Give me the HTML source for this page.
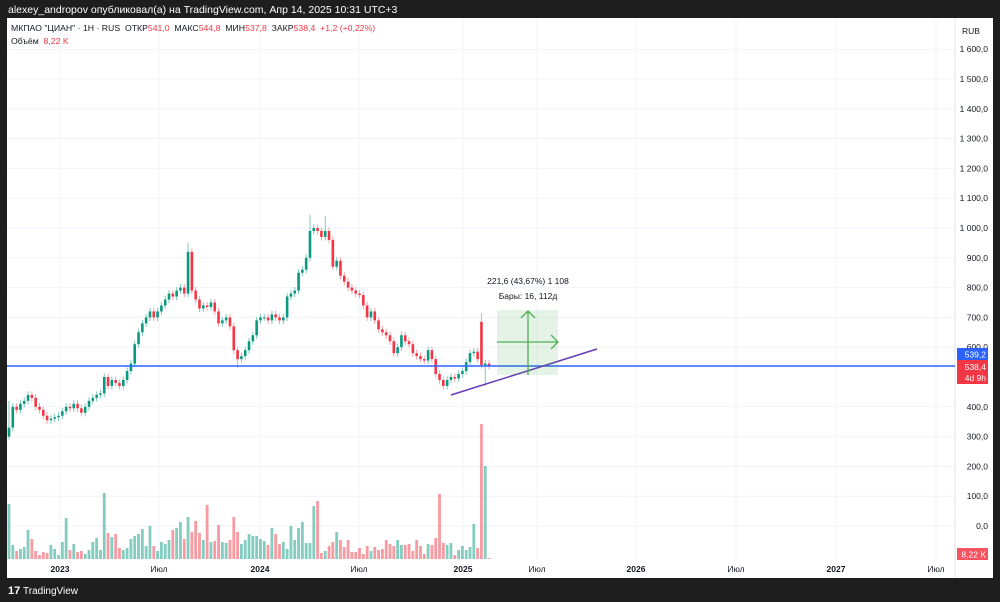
<!DOCTYPE html>
<html><head><meta charset="utf-8"><style>
body{margin:0;background:#1e1e1e;width:1000px;height:602px;overflow:hidden;font-family:"Liberation Sans","Noto Sans CJK SC",sans-serif}
svg{display:block}
text{white-space:pre}
</style></head><body>
<svg id="c" width="1000" height="602" xmlns="http://www.w3.org/2000/svg">
<rect x="0" y="0" width="1000" height="602" fill="#1e1e1e"/>
<text x="8" y="13" fill="#fff" font-size="10.5">alexey_andropov опубликовал(а) на TradingView.com, Апр 14, 2025 10:31 UTC+3</text>
<rect x="7" y="18" width="986" height="560" fill="#fff"/>
<line x1="955" y1="18" x2="955" y2="578" stroke="#e0e3eb"/>
<g id="grid"></g>
<g id="vols"></g>
<g id="candles"></g>
<line x1="7" y1="366" x2="955" y2="366" stroke="#2962ff" stroke-width="1.5"/>
<line x1="451" y1="395" x2="597" y2="349" stroke="#673ab7" stroke-width="1.5"/>
<g>
<rect x="497" y="310" width="61" height="65" fill="rgba(76,175,80,0.15)"/>
<line x1="528" y1="375" x2="528" y2="311" stroke="#4caf50" stroke-width="1.3"/>
<polyline points="521,318 528,311 535,318" fill="none" stroke="#4caf50" stroke-width="1.3"/>
<line x1="497" y1="342" x2="557" y2="342" stroke="#4caf50" stroke-width="1.3"/>
<polyline points="551,335 558,342 551,349" fill="none" stroke="#4caf50" stroke-width="1.3"/>
<text x="528" y="284" text-anchor="middle" font-size="8.5" fill="#131722">221,6 (43,67%) 1 108</text>
<text x="528" y="299" text-anchor="middle" font-size="8.5" fill="#131722">Бары: 16, 112д</text>
</g>
<g id="yaxis" font-size="8.5" fill="#131722"></g>
<g id="xaxis" font-size="8.5" fill="#131722"></g>
<text x="962" y="34" font-size="8.5" fill="#131722">RUB</text>
<text x="11" y="31" font-size="8.7" fill="#131722" xml:space="preserve">МКПАО "ЦИАН" · 1Н · RUS  ОТКР<tspan fill="#f23645">541,0</tspan>  МАКС<tspan fill="#f23645">544,8</tspan>  МИН<tspan fill="#f23645">537,8</tspan>  ЗАКР<tspan fill="#f23645">538,4</tspan>  <tspan fill="#f23645">+1,2 (+0,22%)</tspan></text>
<text x="11" y="44" font-size="8.7" fill="#131722" xml:space="preserve">Объём  <tspan fill="#f23645">8,22 K</tspan></text>
<rect x="957" y="348" width="31" height="12" fill="#2962ff"/>
<text x="986" y="357.5" text-anchor="end" font-size="8.5" fill="#fff">539,2</text>
<rect x="957" y="360" width="31" height="24" fill="#f23645"/>
<text x="986" y="370" text-anchor="end" font-size="8.5" fill="#fff">538,4</text>
<text x="986" y="381" text-anchor="end" font-size="8.5" fill="#fff">4d 9h</text>
<rect x="957" y="548" width="31" height="12" fill="#f7525f"/>
<text x="986" y="557.5" text-anchor="end" font-size="8.5" fill="#fff">8,22 K</text>
<text x="8" y="594" font-size="11" font-weight="bold" fill="#fff">17</text>
<text x="23" y="594" font-size="10" fill="#fff">TradingView</text>
</svg>
<script>
const closes=[330,400,390,410,420,440,430,400,390,370,355,360,365,370,385,400,395,410,395,380,400,420,430,440,445,500,470,490,480,470,490,520,545,610,650,680,700,720,700,720,740,760,780,770,790,800,780,920,790,760,730,740,735,750,720,680,690,700,670,590,560,570,590,620,640,690,700,700,690,710,700,690,700,770,780,790,850,860,900,990,1000,990,970,990,960,870,890,840,820,800,790,780,775,740,700,720,690,660,650,640,620,580,600,640,620,610,580,570,560,555,590,560,510,490,470,490,500,495,510,520,550,580,585,560,540,545,538];
const opens_override={124:685};
const highOverrides={0:420,47:950,79:1045,83:1040,124:714};
const lowOverrides={0:290,60:530,125:470};
const volumes=[55,14,8,10,12,29,20,8,4,7,6,14,10,4,17,41,9,15,7,8,5,9,17,21,9,66,26,22,25,11,9,11,20,23,25,30,13,33,13,8,17,15,19,29,31,37,20,42,27,38,26,19,54,17,18,34,17,16,19,42,27,15,19,25,23,23,20,18,14,31,25,15,17,10,33,19,31,37,16,16,53,58,6,8,13,17,27,19,12,19,7,7,11,5,13,8,12,9,10,19,15,13,19,14,14,15,8,19,13,5,15,14,21,65,16,14,16,4,9,13,9,12,35,11,135,93,1];
const yTicks=[1600,1500,1400,1300,1200,1100,1000,900,800,700,600,400,300,200,100,0];
const xLabels=["2023","Июл","2024","Июл","2025","Июл","2026","Июл","2027","Июл"];
const xLabelPos=[60,159,260,359,463,537,636,736,836,936];
const NS="http://www.w3.org/2000/svg";
const yP=p=>526-p*0.298;
const xI=i=>9+i*3.81;
const yV=v=>559-v;
function mk(t,a,parent){const e=document.createElementNS(NS,t);for(const k in a)e.setAttribute(k,a[k]);parent.appendChild(e);return e;}
const grid=document.getElementById('grid'),ya=document.getElementById('yaxis'),xa=document.getElementById('xaxis');
yTicks.forEach(t=>{
  const l=mk('line',{x1:7,x2:955,y1:yP(t),y2:yP(t),stroke:'#f0f3fa'},grid);
  
  
  const tx=mk('text',{x:988,y:yP(t)+3,'text-anchor':'end'},ya);
  tx.textContent=(t>=1000?Math.floor(t/1000)+' '+String(t%1000).padStart(3,'0'):t)+',0';
  
  
});
xLabels.forEach((s,i)=>{
  const l=mk('line',{x1:xLabelPos[i],x2:xLabelPos[i],y1:18,y2:560,stroke:'#f0f3fa'},grid);
  
  
  const tx=mk('text',{x:xLabelPos[i],y:572,'text-anchor':'middle','font-weight':/\d/.test(s)?'bold':'normal'},xa);
  tx.textContent=s;
  
  
});
const cg=document.getElementById('candles'),vg=document.getElementById('vols');
closes.forEach((c,i)=>{
  const o=opens_override[i]!==undefined?opens_override[i]:(i===0?300:closes[i-1]);
  const up=c>=o;
  const col=up?'#089981':'#f23645';
  const hi=highOverrides[i]!==undefined?highOverrides[i]:Math.max(o,c)+12;
  const lo=lowOverrides[i]!==undefined?lowOverrides[i]:Math.min(o,c)-12;
  const x=xI(i);
  const w=mk('line',{x1:x,x2:x,y1:yP(hi),y2:yP(lo),stroke:up?'#7cc8bb':'#f7a1a8','stroke-width':1},cg);
  
  
  const top=yP(Math.max(o,c)),bot=yP(Math.min(o,c));
  const b=mk('rect',{x:x-1.3,y:top,width:2.6,height:Math.max(1,bot-top),fill:col},cg);
  
  
  const v=volumes[i]||0;
  const r=mk('rect',{x:x-1.4,y:yV(v),width:2.8,height:v,fill:up?'rgba(8,153,129,0.5)':'rgba(242,54,69,0.5)'},vg);
  
  
});
</script>
</body></html>
